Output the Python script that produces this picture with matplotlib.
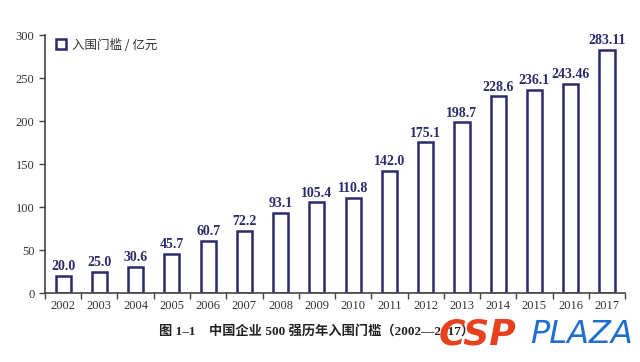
import numpy as np
import matplotlib.pyplot as plt

plt.rcParams['font.family'] = ['Liberation Serif', 'Noto Sans CJK SC']

# Data
years = ['2002', '2003', '2004', '2005', '2006', '2007', '2008', '2009',
         '2010', '2011', '2012', '2013', '2014', '2015', '2016', '2017']
values = [20.0, 25.0, 30.6, 45.7, 60.7, 72.2, 93.1, 105.4,
          110.8, 142.0, 175.1, 198.7, 228.6, 236.1, 243.46, 283.11]
labels = ['20.0', '25.0', '30.6', '45.7', '60.7', '72.2', '93.1', '105.4',
          '110.8', '142.0', '175.1', '198.7', '228.6', '236.1', '243.46', '283.11']

navy = '#2b2a6b'
gray = '#444444'

fig = plt.figure(figsize=(6.4, 3.62), dpi=100)
ax = fig.add_axes([0.0703, 0.1906, 0.9063, 0.7127])

x = np.arange(len(years))
ax.bar(x, values, width=0.42, facecolor='white', edgecolor=navy,
       linewidth=1.8, label='入围门槛 / 亿元')

for xi, v, t in zip(x, values, labels):
    ax.text(xi, v + 3, t, ha='center', va='bottom', fontsize=10,
            fontweight='bold', color=navy)

ax.set_xlim(-0.5, len(years) - 0.5)
ax.set_ylim(0, 300)
ax.set_yticks(np.arange(0, 301, 50))

# category boundary ticks, labels centred without ticks
ax.set_xticks(np.arange(-0.5, len(years), 1.0))
ax.set_xticklabels([])
ax.set_xticks(x, minor=True)
ax.set_xticklabels(years, minor=True)
ax.tick_params(axis='x', which='major', length=4, width=1, color=gray)
ax.tick_params(axis='x', which='minor', length=0, labelsize=9,
               labelcolor='#333333', pad=5)
ax.tick_params(axis='y', length=4, width=1, color=gray, labelsize=9,
               labelcolor='#333333')

for s in ['top', 'right']:
    ax.spines[s].set_visible(False)
for s in ['left', 'bottom']:
    ax.spines[s].set_color(gray)
    ax.spines[s].set_linewidth(1.2)

leg = ax.legend(loc='upper left', bbox_to_anchor=(0.0, 1.03), frameon=False,
                handlelength=0.8, handleheight=0.8, handletextpad=0.5,
                prop={'family': ['Noto Sans CJK SC'], 'size': 9})
for t in leg.get_texts():
    t.set_color('#333333')

fig.text(0.495, 0.085, '图 1–1    中国企业 500 强历年入围门槛（2002—2017）',
         ha='center', va='center', fontsize=9.5, fontweight='bold',
         color='#222222', family=['Liberation Serif', 'Noto Sans CJK SC'])

# watermark
fig.text(0.686, 0.075, 'CSP', ha='left', va='center', fontsize=26,
         fontweight='bold', style='italic', color='#e8401c',
         family=['DejaVu Sans'])
fig.text(0.828, 0.075, 'PLAZA', ha='left', va='center', fontsize=23,
         style='italic', color='#1e6fd0', family=['DejaVu Sans'])

fig.savefig('out.png', dpi=100)
